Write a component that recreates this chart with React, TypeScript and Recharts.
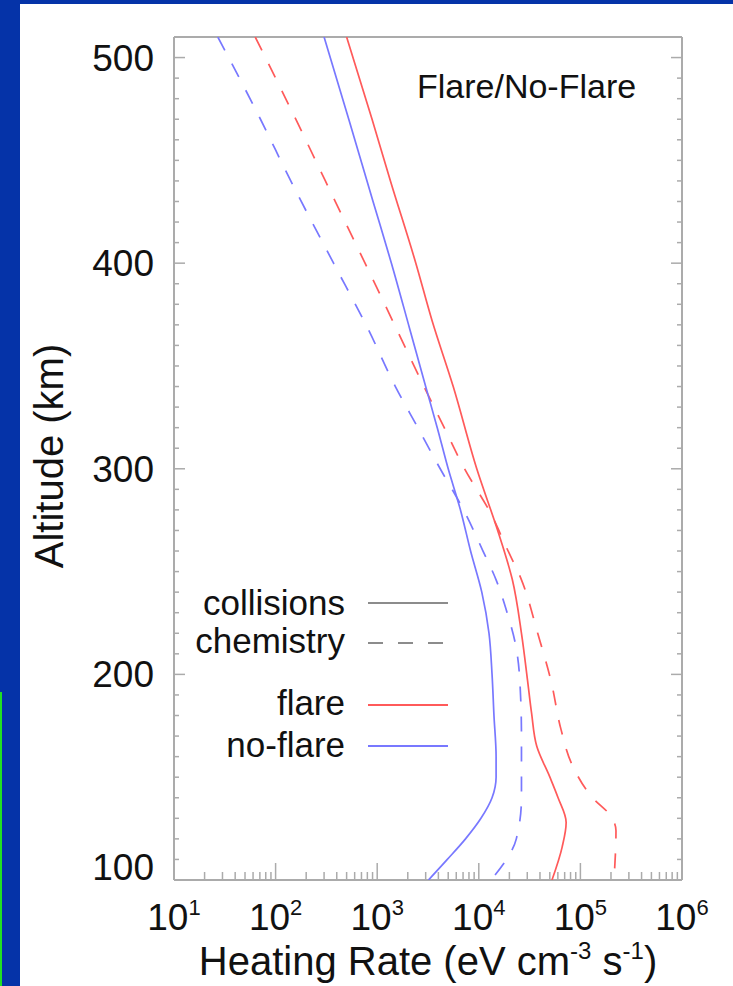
import { ScatterChart, Scatter, XAxis, YAxis, Legend } from "recharts";

// tick labels
const rateTicks = [10, 100, 1000, 10000, 100000, 1000000];
const altTicks = [100, 200, 300, 400, 500];

// flare, collisions (red solid)
const flareCollAlt = [510, 470, 440, 400, 372, 340, 300, 268, 246, 220, 197, 181, 165, 150, 140, 128, 116, 100];
const flareCollRate = [500, 890, 1350, 2400, 3470, 5600, 9550, 15800, 21400, 26300, 30200, 33100, 37200, 50100, 60300, 72400, 66100, 52500];

// flare, chemistry (red dashed)
const flareChemAlt = [510, 470, 440, 400, 368, 341, 320, 300, 278, 262, 246, 220, 197, 173, 157, 140, 131, 124, 100];
const flareChemRate = [63, 158, 309, 759, 1550, 2820, 4570, 7240, 13200, 18600, 26300, 38000, 51300, 64600, 81300, 132000, 200000, 224000, 214000];

// no-flare, collisions (blue solid)
const noFlareCollAlt = [510, 470, 430, 400, 368, 340, 320, 300, 280, 260, 240, 220, 200, 180, 160, 150, 140, 130, 120, 110, 100];
const noFlareCollRate = [300, 525, 910, 1380, 2090, 3000, 3900, 5000, 6600, 8300, 10700, 12600, 13500, 14100, 14800, 14800, 13500, 10500, 7400, 4900, 3200];

// no-flare, chemistry (blue dashed)
const noFlareChemAlt = [510, 470, 440, 400, 368, 340, 320, 300, 280, 260, 246, 230, 215, 200, 170, 140, 120, 100];
const noFlareChemRate = [27, 71, 141, 372, 813, 1510, 2510, 4170, 7080, 11000, 14800, 19000, 22900, 25100, 26300, 26300, 23400, 13200];

const legendItems = [
  { label: "collisions", color: "#8c8c8c", dash: "" },
  { label: "chemistry", color: "#8c8c8c", dash: "15 15" },
  { label: "flare", color: "#ff5a5a", dash: "" },
  { label: "no-flare", color: "#7878ff", dash: "" },
];

const RED = "#ff5a5a";
const BLUE = "#7878ff";
const AXIS = "#ababab";
const INK = "#111";
const FONT = "'Liberation Sans', Arial, Helvetica, sans-serif";

const LEFT = 174;
const RIGHT = 682;
const TOP = 37;
const BOTTOM = 880;

const zip = (alt: number[], rate: number[]) => alt.map((a, i) => ({ alt: a, rate: rate[i] }));

// every 10 km, and 1..9 per decade
const altAll: number[] = [];
for (let a = 100; a <= 510; a += 10) altAll.push(a);
const rateAll: number[] = [];
for (let d = 10; d < 1000000; d *= 10) for (let m = 1; m < 10; m++) rateAll.push(m * d);
rateAll.push(1000000);

const BottomTick = (props: any) => {
  const { x, payload } = props;
  const v = payload.value;
  const major = rateTicks.includes(v);
  return (
    <g>
      <line x1={x} x2={x} y1={BOTTOM} y2={BOTTOM - (major ? 17 : 8)} stroke={AXIS} strokeWidth={1.5} />
      {major && (
        <text x={x} y={930} textAnchor="middle" fontSize={37} fill={INK} fontFamily={FONT}>
          10<tspan dy={-15} fontSize={22}>{Math.round(Math.log10(v))}</tspan>
        </text>
      )}
    </g>
  );
};

const TopTick = (props: any) => {
  const { x, payload } = props;
  const major = rateTicks.includes(payload.value);
  return <line x1={x} x2={x} y1={TOP} y2={TOP + (major ? 17 : 8)} stroke={AXIS} strokeWidth={1.5} />;
};

const LeftTick = (props: any) => {
  const { y, payload } = props;
  const v = payload.value;
  const major = altTicks.includes(v);
  return (
    <g>
      <line x1={LEFT} x2={LEFT + (major ? 11 : 5)} y1={y} y2={y} stroke={AXIS} strokeWidth={1.5} />
      {major && (
        <text x={154} y={v === 100 ? y : y + 13} textAnchor="end" fontSize={37} fill={INK} fontFamily={FONT}>
          {v}
        </text>
      )}
    </g>
  );
};

const RightTick = (props: any) => {
  const { y, payload } = props;
  const major = altTicks.includes(payload.value);
  return <line x1={RIGHT} x2={RIGHT - (major ? 11 : 5)} y1={y} y2={y} stroke={AXIS} strokeWidth={1.5} />;
};

const XTitle = () => (
  <text x={428} y={975} textAnchor="middle" fontSize={40} fill={INK} fontFamily={FONT}>
    Heating Rate (eV cm<tspan dy={-16} fontSize={24}>-3</tspan>
    <tspan dy={16}> s</tspan>
    <tspan dy={-16} fontSize={24}>-1</tspan>
    <tspan dy={16}>)</tspan>
  </text>
);

const YTitle = () => (
  <text transform="translate(63,456) rotate(-90)" textAnchor="middle" fontSize={40} fill={INK} fontFamily={FONT}>
    Altitude (km)
  </text>
);

const PanelTitle = () => (
  <text x={417} y={98} fontSize={34} fill={INK} fontFamily={FONT}>
    Flare/No-Flare
  </text>
);

const renderLegend = () => (
  <svg width={300} height={190} style={{ display: "block", overflow: "visible" }}>
    {legendItems.map((it, i) => {
      const base = [32, 70, 132, 174][i];
      const ly = [20, 60, 122, 163][i];
      return (
        <g key={it.label}>
          <text x={177} y={base} textAnchor="end" fontSize={35} fill={INK} fontFamily={FONT}>
            {it.label}
          </text>
          <line x1={200} x2={280} y1={ly} y2={ly} stroke={it.color} strokeWidth={2} strokeDasharray={it.dash || undefined} />
        </g>
      );
    })}
  </svg>
);

const noDot = () => <g />;

export default function App() {
  return (
    <div style={{ position: "absolute", left: 0, top: 0, width: 733, height: 986, background: "#0533a8", overflow: "hidden" }}>
      <div style={{ position: "absolute", left: 0, top: 692, width: 2, height: 294, background: "#22e022" }} />
      <div style={{ position: "absolute", left: 20, top: 4, width: 713, height: 982, background: "#fff" }} />
      <div style={{ position: "absolute", left: 0, top: 0 }}>
        <ScatterChart
          width={733}
          height={986}
          margin={{ top: TOP - 1, right: 733 - RIGHT - 1, bottom: 986 - BOTTOM - 1, left: LEFT - 1 }}
        >
          <XAxis
            xAxisId="bottom"
            type="number"
            dataKey="rate"
            scale="log"
            domain={[10, 1000000]}
            allowDataOverflow
            ticks={rateAll}
            interval={0}
            height={1}
            tickLine={false}
            axisLine={{ stroke: AXIS, strokeWidth: 2 }}
            tick={<BottomTick />}
            label={<XTitle />}
          />
          <XAxis
            xAxisId="top"
            orientation="top"
            type="number"
            scale="log"
            domain={[10, 1000000]}
            allowDataOverflow
            ticks={rateAll}
            interval={0}
            height={1}
            tickLine={false}
            axisLine={{ stroke: AXIS, strokeWidth: 2 }}
            tick={<TopTick />}
            label={<PanelTitle />}
          />
          <YAxis
            yAxisId="left"
            type="number"
            dataKey="alt"
            domain={[100, 510]}
            allowDataOverflow
            ticks={altAll}
            interval={0}
            width={1}
            tickLine={false}
            axisLine={{ stroke: AXIS, strokeWidth: 2 }}
            tick={<LeftTick />}
            label={<YTitle />}
          />
          <YAxis
            yAxisId="right"
            orientation="right"
            type="number"
            domain={[100, 510]}
            allowDataOverflow
            ticks={altAll}
            interval={0}
            width={1}
            tickLine={false}
            axisLine={{ stroke: AXIS, strokeWidth: 2 }}
            tick={<RightTick />}
          />
          <Legend
            content={renderLegend}
            layout="horizontal"
            verticalAlign="middle"
            align="center"
            wrapperStyle={{ position: "absolute", left: 168, top: 583, width: 300, height: 190 }}
          />
          <Scatter
            name="no-flare chemistry"
            data={zip(noFlareChemAlt, noFlareChemRate)}
            xAxisId="bottom"
            yAxisId="left"
            line={{ stroke: BLUE, strokeWidth: 1.7, strokeDasharray: "15 15" }}
            lineType="joint"
            lineJointType="monotoneY"
            shape={noDot}
            isAnimationActive={false}
          />
          <Scatter
            name="flare chemistry"
            data={zip(flareChemAlt, flareChemRate)}
            xAxisId="bottom"
            yAxisId="left"
            line={{ stroke: RED, strokeWidth: 1.7, strokeDasharray: "15 15" }}
            lineType="joint"
            lineJointType="monotoneY"
            shape={noDot}
            isAnimationActive={false}
          />
          <Scatter
            name="no-flare collisions"
            data={zip(noFlareCollAlt, noFlareCollRate)}
            xAxisId="bottom"
            yAxisId="left"
            line={{ stroke: BLUE, strokeWidth: 1.7 }}
            lineType="joint"
            lineJointType="monotoneY"
            shape={noDot}
            isAnimationActive={false}
          />
          <Scatter
            name="flare collisions"
            data={zip(flareCollAlt, flareCollRate)}
            xAxisId="bottom"
            yAxisId="left"
            line={{ stroke: RED, strokeWidth: 1.7 }}
            lineType="joint"
            lineJointType="monotoneY"
            shape={noDot}
            isAnimationActive={false}
          />
        </ScatterChart>
      </div>
    </div>
  );
}
